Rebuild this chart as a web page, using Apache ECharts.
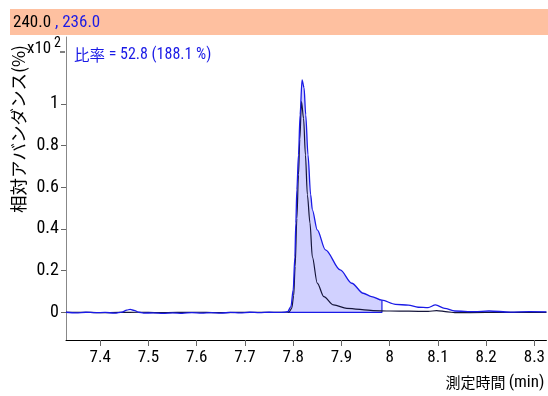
<!DOCTYPE html>
<html>
<head>
<meta charset="utf-8">
<script src="https://cdn.jsdelivr.net/npm/echarts@6/dist/echarts.min.js"></script>
<style>
html,body{margin:0;padding:0;background:#fff;}
#c{width:548px;height:396px;}
</style>
</head>
<body>
<div id="c"></div>
<script>
// ---- data ----
const xTicks = [7.4, 7.5, 7.6, 7.7, 7.8, 7.9, 8.0, 8.1, 8.2, 8.3];
const yTicks = [0, 0.2, 0.4, 0.6, 0.8, 1];
const blueTime = [7.329,7.35,7.37,7.39,7.41,7.43,7.445,7.455,7.462,7.47,7.48,7.49,7.51,7.53,7.55,7.57,7.59,7.61,7.63,7.65,7.67,7.69,7.71,7.73,7.75,7.77,7.782,7.7886,7.7953,7.800,7.8035,7.8055,7.8076,7.811,7.8143,7.8184,7.8225,7.826,7.8307,7.8362,7.8397,7.8499,7.8669,7.8975,7.9215,7.9452,7.9624,7.984,8.012,8.0387,8.059,8.0796,8.095,8.114,8.135,8.176,8.206,8.25,8.29,8.325];
const blueAbund = [0.001,-0.002,0.001,-0.001,0.0,-0.003,0.002,0.011,0.015,0.01,0.001,-0.003,-0.002,-0.004,-0.002,-0.004,-0.001,-0.003,-0.001,-0.003,0.0,-0.002,0.001,-0.001,0.001,0.0,0.001,0.004,0.028,0.108,0.266,0.429,0.588,0.755,0.947,1.115,1.077,0.947,0.755,0.564,0.492,0.396,0.300,0.204,0.140,0.092,0.076,0.059,0.039,0.035,0.025,0.023,0.036,0.020,0.007,0.004,0.007,0.002,0.004,0.003];
const blackTime = [7.329,7.36,7.40,7.44,7.48,7.52,7.56,7.60,7.64,7.68,7.72,7.76,7.785,7.7918,7.797,7.801,7.804,7.8076,7.811,7.8137,7.8172,7.8215,7.8254,7.8294,7.8348,7.8397,7.8499,7.8634,7.8838,7.9112,7.9656,8.00,8.04,8.08,8.0973,8.12,8.135,8.2,8.26,8.325];
const blackAbund = [0.0,0.001,-0.001,0.0,0.001,-0.001,0.0,0.001,-0.001,0.0,0.001,0.0,0.001,0.003,0.02,0.08,0.22,0.45,0.66,0.83,1.011,0.93,0.755,0.564,0.429,0.266,0.141,0.076,0.036,0.020,0.009,0.007,0.006,0.005,0.009,0.003,-0.001,0.0,0.001,0.0];
const fillStart = 7.7886, fillEnd = 7.984;
const headerLeft = "240.0", headerRight = " , 236.0";
const ratioLabel = "比率", ratioValue = " = 52.8 (188.1 %)";

// ---- build ----
const blue = blueTime.map((t,i)=>[t, blueAbund[i]]);
const black = blackTime.map((t,i)=>[t, blackAbund[i]]);
const fillPts = blue.filter(p => p[0] >= fillStart && p[0] <= fillEnd);
const endVal = fillPts[fillPts.length-1][1];
const boundary = [[fillStart,0],[fillEnd,0],[fillEnd,endVal]];

const NARROW = '"Roboto Condensed","DejaVu Sans Condensed",sans-serif';
const CJK = '"Noto Sans CJK JP","Noto Sans",sans-serif';
const BLUE = '#1a1ae6';
const chart = echarts.init(document.getElementById('c'), null, {renderer:'canvas'});
chart.setOption({
  animation:false,
  backgroundColor:'#fff',
  grid:{left:66, right:0, top:37, bottom:56, containLabel:false},
  xAxis:{
    type:'value', min:7.329, max:8.325,
    axisLine:{show:true, onZero:false, lineStyle:{color:'#000', width:1}},
    axisTick:{show:true, length:6, customValues:xTicks, lineStyle:{color:'#666'}},
    axisLabel:{customValues:xTicks, color:'#000', fontFamily:NARROW, fontSize:17, margin:9,
      formatter:v=>String(Math.round(v*10)/10)},
    splitLine:{show:false},
    name:'{c|測定時間} {n|(min)}', nameLocation:'end', nameGap:0,
    nameTextStyle:{align:'right', verticalAlign:'top', padding:[34,2,0,0],
      rich:{c:{fontFamily:CJK, fontSize:15, color:'#000'}, n:{fontFamily:NARROW, fontSize:17, color:'#000'}}}
  },
  yAxis:{
    type:'value', min:-0.132, max:1.32,
    axisLine:{show:true, onZero:false, lineStyle:{color:'#888', width:1}},
    axisTick:{show:true, length:5, customValues:yTicks, lineStyle:{color:'#666'}},
    axisLabel:{customValues:yTicks, color:'#000', fontFamily:NARROW, fontSize:18, margin:7},
    splitLine:{show:false}
  },
  graphic:[
    {type:'rect', shape:{x:10,y:9,width:538,height:26}, style:{fill:'#FEC0A0'}, silent:true},
    {type:'text', x:13, y:14, style:{rich:{a:{fill:'#000',fontFamily:NARROW,fontSize:17},b:{fill:BLUE,fontFamily:NARROW,fontSize:17}}, text:'{a|'+headerLeft+'}{b|'+headerRight+'}'}},
    {type:'text', x:18, y:129, rotation:Math.PI/2, style:{text:'相対アバンダンス(%)', fontFamily:CJK, fontSize:17.5, fill:'#000', align:'center', verticalAlign:'middle'}},
    {type:'text', x:27, y:40, style:{text:'x10', fontFamily:NARROW, fontSize:17, fill:'#000'}},
    {type:'text', x:54, y:36, style:{text:'2', fontFamily:NARROW, fontSize:14, fill:'#000'}},
    {type:'line', shape:{x1:60,y1:52,x2:65,y2:52}, style:{stroke:'#000', lineWidth:1}},
    {type:'text', x:74, y:47, style:{rich:{c:{fill:BLUE,fontFamily:CJK,fontSize:15.5},n:{fill:BLUE,fontFamily:NARROW,fontSize:16}}, text:'{c|'+ratioLabel+'}{n|'+ratioValue+'}'}}
  ],
  series:[
    {type:'line', data:fillPts, showSymbol:false, smooth:0.3, smoothMonotone:'x', lineStyle:{width:0},
      areaStyle:{color:'rgba(0,0,255,0.26)', origin:0}, z:1},
    {type:'line', data:boundary, showSymbol:false, lineStyle:{color:BLUE, width:1.2}, z:2},
    {type:'line', data:black, showSymbol:false, smooth:0.3, smoothMonotone:'x', lineStyle:{color:'#15153a', width:1.2}, z:3},
    {type:'line', data:blue, showSymbol:false, smooth:0.3, smoothMonotone:'x', lineStyle:{color:BLUE, width:1.3}, z:4}
  ]
});
</script>
</body>
</html>
